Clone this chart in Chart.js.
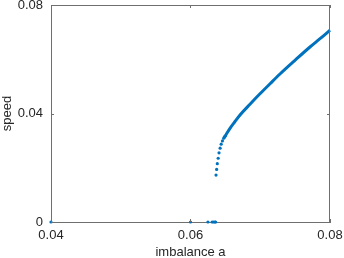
<!DOCTYPE html>
<html>
<head>
<meta charset="utf-8">
<script src="https://cdn.jsdelivr.net/npm/chart.js@4.4.1/dist/chart.umd.min.js"></script>
<style>
  html, body { margin: 0; padding: 0; background: #fff; }
  #wrap { width: 344px; height: 258px; }
</style>
</head>
<body>
<div id="wrap"><canvas id="speed-chart" width="344" height="258"></canvas></div>
<script>
// points where the solver returned zero speed
const zeroA = [0.04, 0.06, 0.0625, 0.0631, 0.0633, 0.0635, 0.0636];
const zeroSpeed = [0, 0, 0, 0, 0, 0, 0];

// sparse points at the start of the moving branch
const branchA = [0.06366, 0.06375, 0.06384, 0.06397, 0.06409, 0.06425, 0.0644, 0.06458, 0.06476, 0.06495];
const branchSpeed = [0.0173, 0.0194, 0.0215, 0.0235, 0.0255, 0.0272, 0.0287, 0.0299, 0.0309, 0.0316];

// dense part of the branch (markers merge into a line)
const curveA = [0.0648, 0.06509, 0.06566, 0.06638, 0.0671, 0.06853, 0.06996, 0.0714, 0.07283, 0.07498, 0.07713, 0.07857, 0.08];
const curveSpeed = [0.0310, 0.03215, 0.03454, 0.03705, 0.03945, 0.04343, 0.04726, 0.05095, 0.05456, 0.05961, 0.06452, 0.06757, 0.07071];

const xTicks = [0.04, 0.06, 0.08];
const yTicks = [0, 0.04, 0.08];

const blue = '#0072BD';
const axisColor = '#6f6f6f';
const textColor = '#262626';
const font = { family: 'Liberation Sans, Arial, sans-serif', size: 13 };

const toPoints = (xs, ys) => xs.map((x, i) => ({ x: x, y: ys[i] }));

// box around the plot plus inward ticks on all four sides
const boxPlugin = {
    id: 'box',
    afterDraw(chart) {
        const c = chart.ctx;
        const a = chart.chartArea;
        const xs = chart.scales.x;
        const ys = chart.scales.y;
        c.save();
        c.strokeStyle = axisColor;
        c.lineWidth = 1;
        c.beginPath();
        c.moveTo(a.left, a.top + 0.5);
        c.lineTo(a.right, a.top + 0.5);
        c.moveTo(a.right - 0.5, a.top);
        c.lineTo(a.right - 0.5, a.bottom);
        xTicks.forEach(v => {
            const px = Math.round(xs.getPixelForValue(v)) + 0.5;
            c.moveTo(px, a.bottom);
            c.lineTo(px, a.bottom - 3);
            c.moveTo(px, a.top);
            c.lineTo(px, a.top + 3);
        });
        yTicks.forEach(v => {
            const py = Math.round(ys.getPixelForValue(v)) + 0.5;
            c.moveTo(a.left, py);
            c.lineTo(a.left + 3, py);
            c.moveTo(a.right, py);
            c.lineTo(a.right - 3, py);
        });
        c.stroke();
        c.restore();
    }
};

const ctx = document.getElementById('speed-chart').getContext('2d');

new Chart(ctx, {
    type: 'scatter',
    data: {
        datasets: [
            {
                label: 'curve',
                data: toPoints(curveA, curveSpeed),
                showLine: true,
                borderColor: blue,
                borderWidth: 3,
                pointRadius: 0,
                cubicInterpolationMode: 'monotone',
                order: 2
            },
            {
                label: 'branch',
                data: toPoints(branchA, branchSpeed),
                backgroundColor: blue,
                borderWidth: 0,
                pointRadius: 1.6,
                order: 1
            },
            {
                label: 'zero',
                data: toPoints(zeroA, zeroSpeed),
                backgroundColor: blue,
                borderWidth: 0,
                pointRadius: 1.6,
                order: 1
            }
        ]
    },
    options: {
        responsive: false,
        animation: false,
        clip: false,
        layout: { padding: { top: 5, right: 14, left: 0, bottom: 0 } },
        plugins: {
            legend: { display: false },
            tooltip: { enabled: false }
        },
        scales: {
            x: {
                type: 'linear',
                min: 0.04,
                max: 0.08,
                afterBuildTicks: s => { s.ticks = xTicks.map(v => ({ value: v })); },
                afterFit: s => {
                    s.height = 36;
                    s.paddingLeft = 0;
                    s.paddingRight = 0;
                },
                ticks: {
                    color: textColor,
                    font: font,
                    padding: 6,
                    maxRotation: 0,
                    callback: v => String(v)
                },
                grid: { display: false, drawTicks: false },
                border: { color: axisColor, width: 1 },
                title: {
                    display: true,
                    text: 'imbalance a',
                    color: textColor,
                    font: font,
                    padding: { top: 0, bottom: -2 }
                }
            },
            y: {
                type: 'linear',
                min: 0,
                max: 0.08,
                afterBuildTicks: s => { s.ticks = yTicks.map(v => ({ value: v })); },
                afterFit: s => {
                    s.width = 51;
                    s.paddingTop = 0;
                    s.paddingBottom = 0;
                },
                ticks: {
                    color: textColor,
                    font: font,
                    padding: 8,
                    callback: v => String(v)
                },
                grid: { display: false, drawTicks: false },
                border: { color: axisColor, width: 1 },
                title: {
                    display: true,
                    text: 'speed',
                    color: textColor,
                    font: font,
                    padding: 0
                }
            }
        }
    },
    plugins: [boxPlugin]
});
</script>
</body>
</html>
